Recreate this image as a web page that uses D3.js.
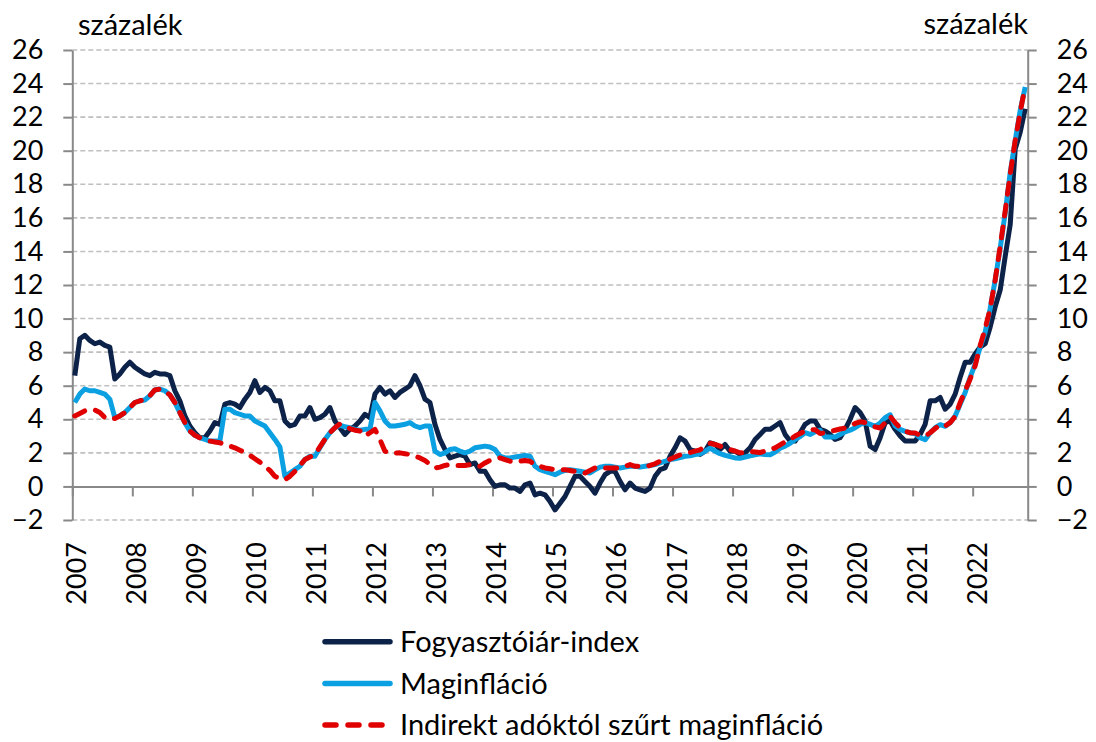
<!DOCTYPE html>
<html>
<head>
<meta charset="utf-8">
<script src="https://cdn.jsdelivr.net/npm/d3@7"></script>
<style>
	body{margin:0;background:#fff;}
	svg{display:block;font-family:Lato, "Open Sans", sans-serif;}
</style>
</head>
<body>
<svg width="1096" height="742"></svg>
<script>
//évek (kategória tengely), havi adatok 2007 jan - 2022 nov
var years = ['2007','2008','2009','2010','2011','2012','2013','2014','2015','2016','2017','2018','2019','2020','2021','2022'];
var yTicks = [-2,0,2,4,6,8,10,12,14,16,18,20,22,24,26];
var seriesNames = ['Fogyasztóiár-index','Maginfláció','Indirekt adóktól szűrt maginfláció'];

var cpi = [
	6.6, 8.8, 9.0, 8.7, 8.5, 8.6, 8.4, 8.3, 6.4, 6.7, 7.1, 7.4,
	7.1, 6.9, 6.7, 6.6, 6.8, 6.7, 6.7, 6.6, 5.7, 5.1, 4.2, 3.6,
	3.2, 2.9, 2.9, 3.3, 3.8, 3.7, 4.9, 5.0, 4.9, 4.7, 5.2, 5.6,
	6.3, 5.6, 5.9, 5.7, 5.1, 5.1, 3.9, 3.6, 3.7, 4.2, 4.2, 4.7,
	4.0, 4.1, 4.3, 4.7, 3.9, 3.5, 3.1, 3.4, 3.6, 3.9, 4.3, 4.1,
	5.5, 5.9, 5.5, 5.7, 5.3, 5.6, 5.8, 6.0, 6.6, 6.0, 5.2, 5.0,
	3.7, 2.8, 2.2, 1.7, 1.8, 1.9, 1.8, 1.3, 1.4, 0.9, 0.9, 0.4,
	0.0, 0.1, 0.1, -0.1, -0.1, -0.3, 0.1, 0.2, -0.5, -0.4, -0.5, -0.9,
	-1.4, -1.0, -0.6, 0.0, 0.6, 0.6, 0.3, 0.0, -0.4, 0.2, 0.7, 0.9,
	0.9, 0.3, -0.2, 0.2, -0.1, -0.2, -0.3, -0.1, 0.6, 1.0, 1.1, 1.8,
	2.3, 2.9, 2.7, 2.2, 2.1, 1.9, 2.1, 2.6, 2.5, 2.2, 2.5, 2.1,
	2.1, 1.9, 2.0, 2.3, 2.8, 3.1, 3.4, 3.4, 3.6, 3.8, 3.1, 2.7,
	2.7, 3.2, 3.7, 3.9, 3.9, 3.4, 3.3, 3.1, 2.8, 2.9, 3.4, 4.0,
	4.7, 4.4, 3.9, 2.4, 2.2, 2.9, 3.8, 3.9, 3.4, 3.0, 2.7, 2.7,
	2.7, 3.1, 3.7, 5.1, 5.1, 5.3, 4.6, 4.9, 5.5, 6.5, 7.4, 7.4,
	7.9, 8.3, 8.5, 9.5, 10.7, 11.7, 13.7, 15.6, 20.1, 21.1, 22.5
];
var core = [
	5.0, 5.5, 5.8, 5.7, 5.7, 5.6, 5.5, 5.2, 4.1, 4.2, 4.4, 4.7,
	5.0, 5.1, 5.15, 5.4, 5.75, 5.8, 5.7, 5.45, 5.0, 4.4, 3.8, 3.3,
	3.05, 2.9, 2.8, 2.7, 2.7, 2.7, 4.6, 4.6, 4.4, 4.3, 4.2, 4.2,
	3.9, 3.75, 3.6, 3.2, 2.8, 2.35, 0.6, 0.8, 1.0, 1.2, 1.6, 1.8,
	1.8, 2.3, 2.8, 3.2, 3.5, 3.65, 3.55, 3.5, 3.4, 3.35, 3.4, 3.4,
	5.0, 4.5, 3.9, 3.6, 3.6, 3.65, 3.7, 3.8, 3.6, 3.5, 3.6, 3.6,
	2.1, 1.9, 2.0, 2.2, 2.25, 2.1, 2.0, 2.1, 2.3, 2.35, 2.4, 2.35,
	2.2, 1.8, 1.7, 1.7, 1.75, 1.8, 1.85, 1.8, 1.2, 1.0, 0.9, 0.8,
	0.7, 0.85, 0.95, 1.0, 0.95, 0.9, 0.85, 0.8, 1.0, 1.15, 1.2, 1.2,
	1.15, 1.1, 1.15, 1.2, 1.2, 1.15, 1.2, 1.25, 1.3, 1.4, 1.5, 1.6,
	1.65, 1.72, 1.8, 1.82, 1.9, 1.95, 2.1, 2.28, 2.1, 1.95, 1.85, 1.78,
	1.7, 1.68, 1.75, 1.82, 1.88, 1.94, 1.9, 1.88, 2.05, 2.28, 2.4, 2.57,
	2.8, 2.97, 3.2, 3.1, 3.25, 3.35, 2.95, 2.95, 2.95, 3.1, 3.25, 3.35,
	3.5, 3.7, 3.82, 3.7, 3.58, 3.78, 4.1, 4.27, 3.6, 3.4, 3.28, 3.2,
	3.14, 2.9, 2.78, 3.2, 3.5, 3.68, 3.58, 3.8, 4.2, 4.9, 5.6, 6.5,
	7.3, 8.3, 9.2, 10.6, 12.3, 14.2, 16.3, 18.7, 20.6, 22.4, 23.8
];
var coreTax = [
	4.2, 4.35, 4.5, 4.57, 4.55, 4.4, 4.1, 4.0, 4.05, 4.2, 4.4, 4.7,
	5.0, 5.1, 5.15, 5.4, 5.75, 5.8, 5.7, 5.45, 5.0, 4.4, 3.8, 3.3,
	3.05, 2.9, 2.8, 2.7, 2.65, 2.6, 2.5, 2.4, 2.3, 2.15, 2.05, 1.85,
	1.65, 1.45, 1.2, 0.95, 0.6, 0.45, 0.4, 0.6, 0.9, 1.25, 1.6, 1.75,
	1.9, 2.35, 2.8, 3.2, 3.5, 3.72, 3.6, 3.45, 3.35, 3.3, 3.0, 3.2,
	3.4, 2.8, 2.1, 1.98, 1.98, 2.0, 1.95, 1.9, 1.8, 1.7, 1.55, 1.3,
	1.1, 1.15, 1.25, 1.3, 1.25, 1.25, 1.25, 1.3, 1.2, 1.2, 1.4, 1.55,
	1.65, 1.7, 1.6, 1.5, 1.45, 1.5, 1.55, 1.5, 1.3, 1.2, 1.1, 1.05,
	1.0, 1.0, 1.0, 0.95, 0.9, 0.85, 0.8, 0.95, 1.1, 1.15, 1.1, 1.1,
	1.1, 1.1, 1.2, 1.3, 1.2, 1.2, 1.2, 1.25, 1.35, 1.5, 1.55, 1.62,
	1.75, 1.88, 1.95, 2.02, 2.1, 2.18, 2.4, 2.57, 2.5, 2.4, 2.28, 2.2,
	2.1, 2.0, 2.02, 2.08, 2.05, 2.02, 2.1, 2.18, 2.3, 2.48, 2.65, 2.8,
	3.0, 3.15, 3.3, 3.4, 3.37, 3.15, 3.2, 3.27, 3.35, 3.42, 3.47, 3.6,
	3.75, 3.85, 3.8, 3.68, 3.55, 3.48, 3.8, 4.17, 3.8, 3.5, 3.28, 3.2,
	3.18, 3.05, 3.0, 3.2, 3.45, 3.68, 3.6, 3.8, 4.17, 5.0, 5.7, 6.4,
	7.2, 8.4, 9.4, 10.6, 12.3, 14.3, 16.4, 18.6, 20.6, 22.3, 23.85
];

var svg = d3.select('svg');
var plotLeft = 72.3, plotRight = 1027.7, plotTop = 50, plotBottom = 520;
var n = cpi.length;

// kategóriák a tick-ek között
var x = d3.scaleLinear().domain([-0.5, n - 0.5]).range([plotLeft, plotRight]);
var y = d3.scaleLinear().domain([-2, 26]).range([plotBottom, plotTop]);
var yearStarts = years.map(function(d, i){ return i * 12 - 0.5; });

//rácsvonalak
svg.append('g').selectAll('line')
	.data(yTicks.filter(function(d){ return d != 0; }))
	.enter().append('line')
	.attr('x1', plotLeft).attr('x2', plotRight)
	.attr('y1', function(d){ return y(d); })
	.attr('y2', function(d){ return y(d); })
	.attr('stroke', '#bfbfbf').attr('stroke-width', 1.6)
	.attr('stroke-dasharray', '5,3');

var axisColor = '#898989';
function styleAxis(g, size){
	g.selectAll('.domain').attr('stroke', axisColor).attr('stroke-width', 2);
	g.selectAll('.tick line').attr('stroke', axisColor).attr('stroke-width', 2);
	g.selectAll('.tick text').attr('fill', '#000').attr('font-size', size)
		.attr('font-family', 'Lato, sans-serif');
}

var yLeft = d3.axisLeft(y).tickValues(yTicks).tickSize(9).tickSizeOuter(0).tickPadding(20);
svg.append('g').attr('transform', 'translate(' + plotLeft + ',0)').call(yLeft).call(styleAxis, 27);

var yRight = d3.axisRight(y).tickValues(yTicks).tickSize(9).tickSizeOuter(0).tickPadding(20);
svg.append('g').attr('transform', 'translate(' + plotRight + ',0)').call(yRight).call(styleAxis, 27);

//vízszintes tengely a nullánál
var xAxis = d3.axisBottom(x).tickValues(yearStarts).tickSize(10).tickSizeOuter(0).tickFormat('');
svg.append('g').attr('transform', 'translate(0,' + y(0) + ')').call(xAxis).call(styleAxis, 27);

//évszámok alul, elforgatva
var xLabels = d3.axisBottom(x).tickValues(yearStarts).tickSize(0)
	.tickFormat(function(d, i){ return years[i]; });
var lg = svg.append('g').attr('transform', 'translate(0,' + plotBottom + ')').call(xLabels);
lg.select('.domain').remove();
lg.selectAll('.tick text')
	.attr('font-size', 27).attr('font-family', 'Lato, sans-serif').attr('fill', '#000')
	.attr('transform', 'rotate(-90)')
	.attr('text-anchor', 'end')
	.attr('x', -22).attr('y', 4).attr('dy', '0.35em');

svg.append('text').attr('x', 78).attr('y', 35).attr('font-size', 29).text('százalék');
svg.append('text').attr('x', 1028).attr('y', 34).attr('font-size', 29)
	.attr('text-anchor', 'end').text('százalék');

//görbék
var line = d3.line()
	.x(function(d, i){ return x(i); })
	.y(function(d){ return y(d); });

var series = [
	{values: cpi, color: '#0c2249', dash: null},
	{values: core, color: '#0aa0e2', dash: null},
	{values: coreTax, color: '#e00000', dash: '11,11'}
];

svg.append('g').selectAll('path')
	.data(series)
	.enter().append('path')
	.attr('d', function(d){ return line(d.values); })
	.attr('fill', 'none')
	.attr('stroke', function(d){ return d.color; })
	.attr('stroke-width', 5)
	.attr('stroke-linejoin', 'round')
	.attr('stroke-linecap', function(d){ return d.dash ? 'round' : 'butt'; })
	.attr('stroke-dasharray', function(d){ return d.dash; });

//jelmagyarázat
var legend = svg.append('g').selectAll('g')
	.data(series)
	.enter().append('g')
	.attr('transform', function(d, i){ return 'translate(0,' + (641.7 + i * 41.7) + ')'; });
legend.append('line')
	.attr('x1', 325).attr('x2', 390)
	.attr('stroke', function(d){ return d.color; })
	.attr('stroke-width', 5.5)
	.attr('stroke-linecap', 'round')
	.attr('stroke-dasharray', function(d){ return d.dash ? '11,12' : null; });
legend.append('text')
	.attr('x', 400).attr('dy', '0.35em').attr('font-size', 29)
	.text(function(d, i){ return seriesNames[i]; });
</script>
</body>
</html>
